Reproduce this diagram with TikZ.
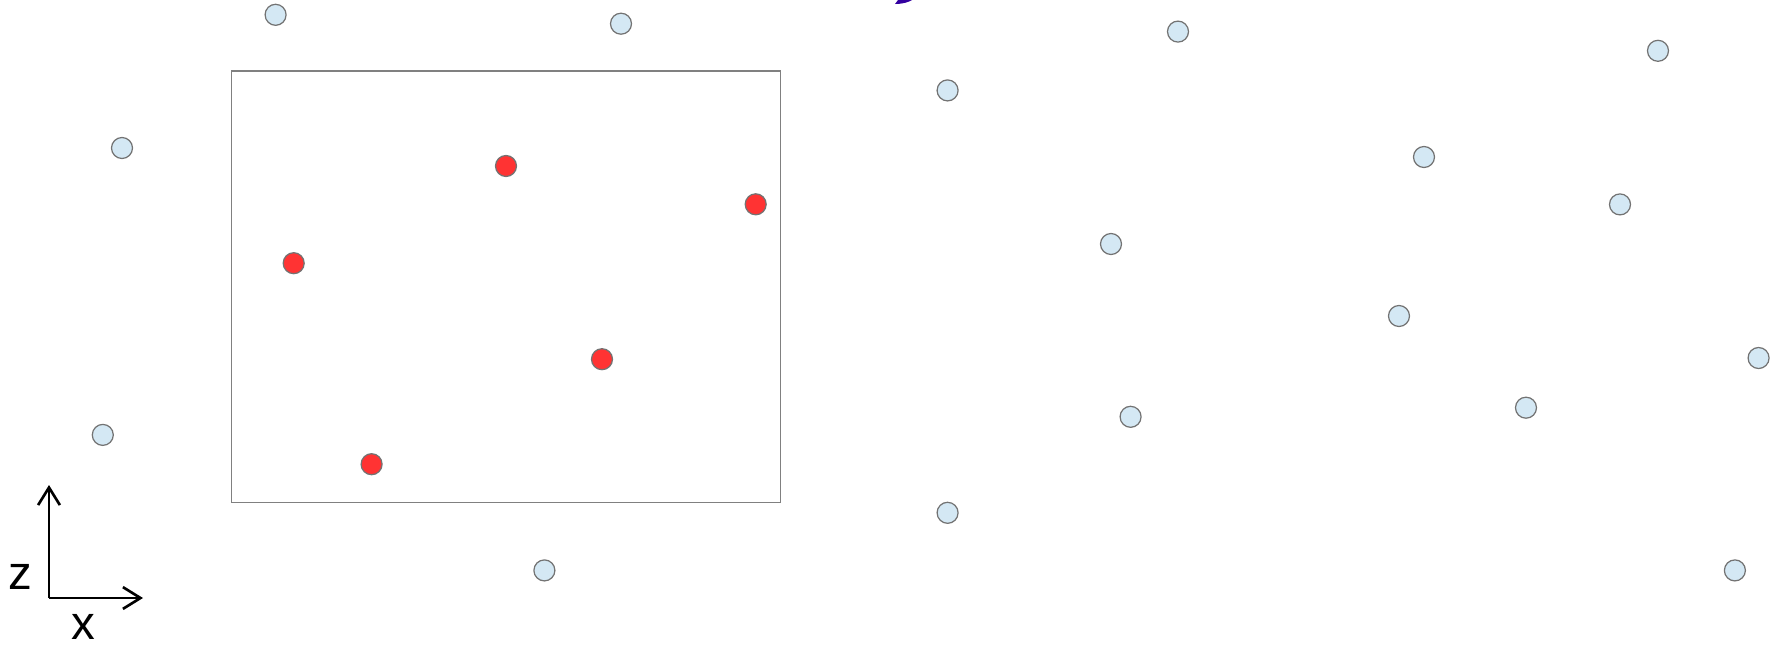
\documentclass[tikz,border=0pt]{standalone}
\usepackage{fontspec}
\setsansfont{Liberation Sans}
\usetikzlibrary{arrows.meta}
\definecolor{dotblue}{HTML}{D4E8F4}
\definecolor{dotred}{HTML}{FF3333}
\definecolor{cutpurple}{HTML}{3300A0}
\tikzset{
    bgdot/.style={circle, draw=gray!90!black, line width=0.35pt, fill=dotblue, minimum size=0.21cm, inner sep=0pt},
    seldot/.style={circle, draw=gray!90!black, line width=0.35pt, fill=dotred, minimum size=0.21cm, inner sep=0pt},
    axislabel/.style={font=\sffamily\fontsize{13.5}{16}\selectfont, inner sep=0pt}
}
\begin{document}
\begin{tikzpicture}[x=0.01cm, y=-0.01cm]
    \useasboundingbox (0,0) rectangle (1771,648);

    % Fragment (bas de lettre coupee en haut)
    \fill[cutpurple] (895,4) .. controls (903,4) and (909,2) .. (912,0) -- (898,0) .. controls (897,2) .. cycle;

    % Fenetre de selection
    \draw[gray, line width=0.45pt] (231.5,71) rectangle (780.5,502.5);

    % Points hors fenetre
    \foreach \i/\x/\y in {1/275.6/14.8, 2/621/23.7, 3/122/148, 4/947.6/90.4, 5/1178/31.6,
                          6/1658/50.8, 7/1424/157, 8/1620/204.4, 9/1111/244, 10/1399/316,
                          11/1758.6/358, 12/1526/407.7, 13/1130.6/416.8, 14/102.8/434.9,
                          15/947.6/512.8, 16/544.4/570.4, 17/1734.9/570.4}
        \node[bgdot] (b\i) at (\x,\y) {};

    % Points dans la fenetre
    \foreach \i/\x/\y in {1/506/166, 2/755.7/204.3, 3/293.7/263.2, 4/602/359.2, 5/371.6/464.2}
        \node[seldot] (r\i) at (\x,\y) {};

    % Axes
    \coordinate (O) at (49,598);
    \coordinate (ztip) at (49,485);
    \coordinate (xtip) at (143,598);
    \draw[->, >={Straight Barb[length=5pt, width=6.2pt]}, line width=0.75pt] (O) -- (ztip);
    \draw[->, >={Straight Barb[length=5pt, width=6.2pt]}, line width=0.75pt] (O) -- (xtip);
    \node[axislabel] (zlab) at (20,577) {z};
    \node[axislabel] (xlab) at (83,627) {x};
\end{tikzpicture}
\end{document}
